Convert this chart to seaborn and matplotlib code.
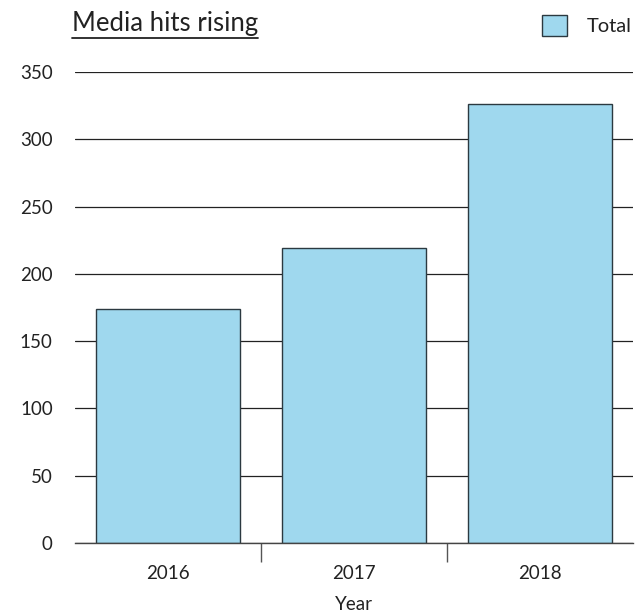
import pandas as pd
import seaborn as sns
import matplotlib.pyplot as plt
from matplotlib.lines import Line2D

years = ["2016", "2017", "2018"]
totals = [174, 219, 326]

df = pd.DataFrame({"Year": years, "Total": totals})

sns.set_theme(style="white")
plt.rcParams['font.family'] = ['Lato', 'DejaVu Sans']

fig = plt.figure(figsize=(6.36, 6.15), dpi=100)
ax = fig.add_axes([75 / 636, 1 - 543 / 615, 558 / 636, 471 / 615])

ax.set_axisbelow(True)
ax.yaxis.grid(True, color='#222222', linewidth=0.9)
sns.barplot(data=df, x="Year", y="Total", color='#9fd8ee', saturation=1,
            edgecolor='#2b3940', linewidth=1.0, width=0.775, ax=ax, label="Total")

ax.set_ylim(0, 350)
ax.set_xlim(-0.5, 2.5)
ax.set_yticks(range(0, 351, 50))
sns.despine(ax=ax, left=True, right=True, top=True)
ax.spines['bottom'].set_color('#444444')
ax.spines['bottom'].set_linewidth(1.0)

ax.tick_params(axis='y', length=0, pad=16, labelsize=13.5, labelcolor='#222222')
ax.tick_params(axis='x', which='major', length=0, pad=16, labelsize=13.5, labelcolor='#222222')
ax.set_xticks([0.5, 1.5], minor=True)
ax.tick_params(axis='x', which='minor', bottom=True, length=14, width=1.0, color='#555555')
ax.set_ylabel("")
ax.set_xlabel("Year", fontsize=13.5, color='#222222', labelpad=10)

leg = ax.legend(loc='upper right', bbox_to_anchor=(1.012, 1.138), frameon=False,
                fontsize=14.5, handlelength=1.2, handleheight=1.25, handletextpad=1.0,
                borderaxespad=0)
for h in leg.get_patches():
    h.set_edgecolor('#2b3940')
for t in leg.get_texts():
    t.set_color('#222222')

title = fig.text(72 / 636, 1 - 24 / 615, "Media hits rising", fontsize=18.5,
                 color='#222222', ha='left', va='center')
fig.canvas.draw()
bb = title.get_window_extent().transformed(fig.transFigure.inverted())
fig.add_artist(Line2D([bb.x0, bb.x1], [bb.y0 - 0.003, bb.y0 - 0.003],
                      transform=fig.transFigure, color='#222222', linewidth=1.3))

fig.savefig("out.png", dpi=100)
